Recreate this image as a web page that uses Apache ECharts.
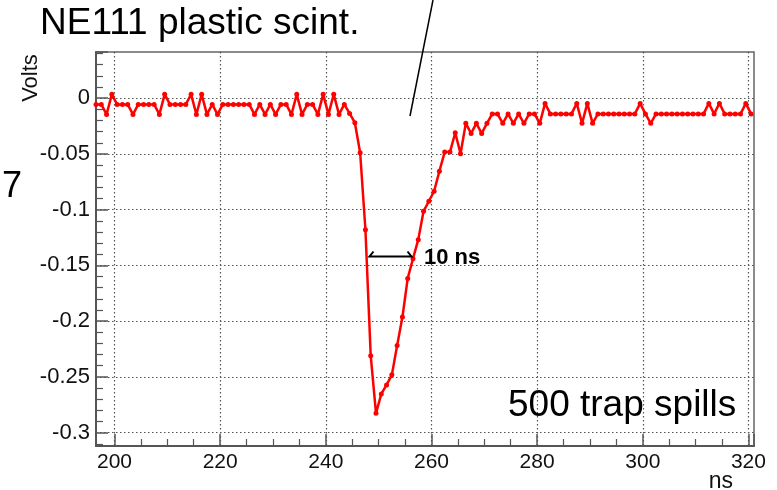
<!DOCTYPE html>
<html><head><meta charset="utf-8">
<script src="https://cdn.jsdelivr.net/npm/echarts@6/dist/echarts.min.js"></script>
<style>html,body{margin:0;padding:0;background:#fff;}#c{width:777px;height:490px;}</style>
</head><body><div id="c"></div>
<script>
// bin centres (ns)
const timeNs = [
  196.5,197.5,198.5,199.5,200.5,201.5,202.5,203.5,204.5,205.5,
  206.5,207.5,208.5,209.5,210.5,211.5,212.5,213.5,214.5,215.5,
  216.5,217.5,218.5,219.5,220.5,221.5,222.5,223.5,224.5,225.5,
  226.5,227.5,228.5,229.5,230.5,231.5,232.5,233.5,234.5,235.5,
  236.5,237.5,238.5,239.5,240.5,241.5,242.5,243.5,244.5,245.5,
  246.5,247.5,248.5,249.5,250.5,251.5,252.5,253.5,254.5,255.5,
  256.5,257.5,258.5,259.5,260.5,261.5,262.5,263.5,264.5,265.5,
  266.5,267.5,268.5,269.5,270.5,271.5,272.5,273.5,274.5,275.5,
  276.5,277.5,278.5,279.5,280.5,281.5,282.5,283.5,284.5,285.5,
  286.5,287.5,288.5,289.5,290.5,291.5,292.5,293.5,294.5,295.5,
  296.5,297.5,298.5,299.5,300.5,301.5,302.5,303.5,304.5,305.5,
  306.5,307.5,308.5,309.5,310.5,311.5,312.5,313.5,314.5,315.5,
  316.5,317.5,318.5,319.5,320.5
];
// signal (Volts)
const volts = [
  -0.0056,-0.0056,-0.0146,0.0034,-0.0056,-0.0056,-0.0056,-0.0146,-0.0056,-0.0056,
  -0.0056,-0.0056,-0.0146,0.0034,-0.0056,-0.0056,-0.0056,-0.0056,0.0034,-0.0146,
  0.0034,-0.0146,-0.0056,-0.0146,-0.0056,-0.0056,-0.0056,-0.0056,-0.0056,-0.0056,
  -0.0146,-0.0056,-0.0146,-0.0056,-0.0146,-0.0056,-0.0056,-0.0146,0.0034,-0.0146,
  -0.0056,-0.0056,-0.0146,0.0034,-0.0146,0.0034,-0.0146,-0.0056,-0.0137,-0.0220,
  -0.0490,-0.1180,-0.2310,-0.2827,-0.2653,-0.2572,-0.2482,-0.2219,-0.1964,-0.1617,
  -0.1440,-0.1269,-0.1015,-0.0925,-0.0835,-0.0655,-0.0484,-0.0484,-0.0310,-0.0499,
  -0.0226,-0.0316,-0.0226,-0.0316,-0.0226,-0.0141,-0.0141,-0.0226,-0.0141,-0.0226,
  -0.0141,-0.0226,-0.0141,-0.0141,-0.0226,-0.0047,-0.0141,-0.0141,-0.0141,-0.0141,
  -0.0141,-0.0047,-0.0226,-0.0047,-0.0226,-0.0141,-0.0141,-0.0141,-0.0141,-0.0141,
  -0.0141,-0.0141,-0.0141,-0.0047,-0.0141,-0.0226,-0.0141,-0.0141,-0.0141,-0.0141,
  -0.0141,-0.0141,-0.0141,-0.0141,-0.0141,-0.0141,-0.0047,-0.0141,-0.0047,-0.0141,
  -0.0141,-0.0141,-0.0141,-0.0047,-0.0141
];
const xRange = [196.5, 321.05];
const yRange = [-0.312, 0.0414];
const xStep = 20;
const yStep = 0.05;
const titleText = 'NE111 plastic scint.';
const noteText = '500 trap spills';
const widthText = '10 ns';
const xName = 'ns';
const yName = 'Volts';

const FONT = '"Liberation Sans", Arial, Helvetica, sans-serif';
const chart = echarts.init(document.getElementById('c'), null, {renderer: 'canvas'});
const isMult = (v, s) => Math.abs(v / s - Math.round(v / s)) < 1e-6;
chart.setOption({
  animation: false,
  backgroundColor: '#ffffff',
  grid: {left: 96, top: 52, right: 23, bottom: 44, show: true, borderColor: '#666', borderWidth: 1.5, backgroundColor: 'transparent'},
  xAxis: {
    type: 'value', min: xRange[0], max: xRange[1], splitNumber: 6, minInterval: xStep, maxInterval: xStep,
    axisLine: {show: true, onZero: false, lineStyle: {color: '#555', width: 2}},
    axisTick: {show: true, inside: true, length: 12, lineStyle: {color: '#555', width: 1.5}},
    minorTick: {show: true, splitNumber: 4, length: 7, lineStyle: {color: '#555', width: 1.2}},
    splitLine: {show: true, showMinLine: false, showMaxLine: false, lineStyle: {color: '#555', type: [1.5, 2.5], width: 1.2}},
    axisLabel: {margin: 6, fontSize: 21, color: '#111', fontFamily: FONT, showMinLabel: false, showMaxLabel: false,
      formatter: v => isMult(v, xStep) ? String(Math.round(v)) : ''}
  },
  yAxis: {
    type: 'value', min: yRange[0], max: yRange[1], splitNumber: 7, minInterval: yStep, maxInterval: yStep,
    axisLine: {show: true, onZero: false, lineStyle: {color: '#555', width: 2}},
    axisTick: {show: true, inside: true, length: 12, lineStyle: {color: '#555', width: 1.5}},
    minorTick: {show: true, splitNumber: 5, length: 7, lineStyle: {color: '#555', width: 1.2}},
    splitLine: {show: true, showMinLine: false, showMaxLine: false, lineStyle: {color: '#555', type: [1.5, 2.5], width: 1.2}},
    axisLabel: {margin: 6, fontSize: 22, color: '#111', fontFamily: FONT, showMinLabel: false, showMaxLabel: false,
      formatter: v => isMult(v, yStep) ? String(+v.toFixed(2)) : ''}
  },
  series: [{
    type: 'line',
    data: timeNs.map((t, i) => [t, volts[i]]),
    symbol: 'circle', symbolSize: 5, showSymbol: true, clip: false,
    lineStyle: {color: '#ff0000', width: 2.5},
    itemStyle: {color: '#ff0000'},
    z: 5
  }],
  graphic: [
    {type: 'text', x: 40, y: 24, z: 10, style: {text: titleText, fontSize: 37, fontFamily: FONT, fill: '#000', align: 'left', verticalAlign: 'middle'}},
    {type: 'text', x: 2, y: 187.5, z: 10, style: {text: '7', fontSize: 36, fontFamily: FONT, fill: '#000', align: 'left', verticalAlign: 'middle'}},
    {type: 'text', x: 508, y: 406, z: 10, style: {text: noteText, fontSize: 37, fontFamily: FONT, fill: '#000', align: 'left', verticalAlign: 'middle'}},
    {type: 'text', x: 424, y: 257.5, z: 10, style: {text: widthText, fontSize: 22, fontWeight: 'bold', fontFamily: FONT, fill: '#000', align: 'left', verticalAlign: 'middle'}},
    {type: 'text', x: 30.5, y: 78, rotation: Math.PI / 2, z: 10, style: {text: yName, fontSize: 22, fontFamily: FONT, fill: '#111', align: 'center', verticalAlign: 'middle'}},
    {type: 'text', x: 733, y: 481.5, z: 10, style: {text: xName, fontSize: 23, fontFamily: FONT, fill: '#111', align: 'right', verticalAlign: 'middle'}},
    {type: 'line', z: 10, shape: {x1: 433, y1: 0, x2: 410, y2: 116}, style: {stroke: '#000', lineWidth: 1.5}},
    {type: 'polyline', z: 10, shape: {points: [[373.5, 251.5], [369.5, 256.5], [411.5, 256.5], [407.5, 251.5]]}, style: {stroke: '#000', lineWidth: 2, fill: null}}
  ]
});
</script>
</body></html>
